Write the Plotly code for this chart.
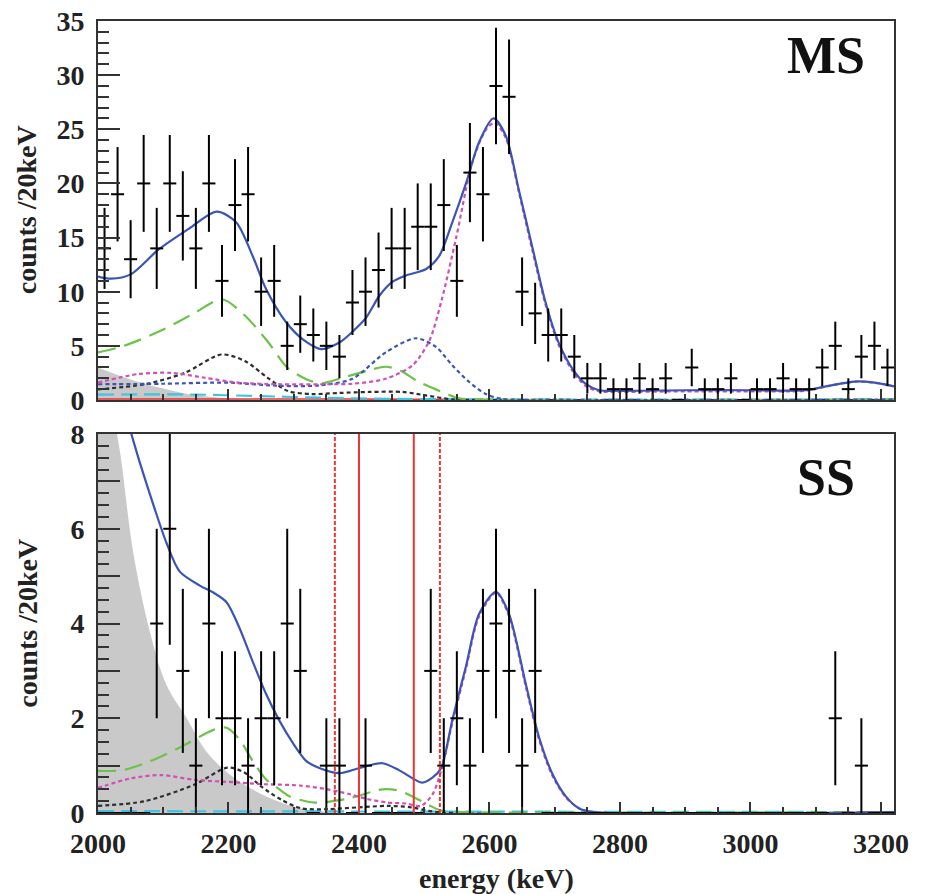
import numpy as np
import plotly.graph_objects as go

# ---------------- data ----------------
bin_centers = list(range(2010, 3220, 20))  # 61 bins of 20 keV

ms_counts = [14, 19, 13, 20, 14, 20, 17, 14, 20, 11, 18, 19, 10, 11, 5, 7, 6, 5, 4, 9,
             10, 12, 14, 14, 16, 16, 18, 11, 21, 19, 29, 28, 10, 8, 6, 6, 4, 2, 2, 1,
             1, 2, 1, 2, 0, 3, 1, 1, 2, 0, 1, 1, 2, 1, 1, 3, 5, 1, 4, 5, 3]

ss_counts = [0, 0, 0, 0, 4, 6, 3, 1, 4, 2, 2, 1, 2, 2, 4, 3, 0, 1, 1, 0,
             1, 0, 0, 0, 0, 3, 1, 2, 1, 3, 4, 3, 1, 3, 0, 0, 0, 0, 0, 0,
             0, 0, 0, 0, 0, 0, 0, 0, 0, 0, 0, 0, 0, 0, 0, 0, 2, 0, 1, 0, 0]

# MS fit components (energy knots, counts)
ms_total_e = [2000, 2020, 2050, 2093, 2139, 2182, 2212, 2237, 2258, 2288, 2314, 2342, 2370, 2390, 2411,
              2431, 2451, 2472, 2503, 2523, 2543, 2564, 2584, 2606, 2625, 2645, 2665, 2686, 2706, 2727,
              2747, 2768, 2800, 2900, 3000, 3084, 3120, 3160, 3190, 3220]
ms_total_y = [11.4, 11.2, 11.6, 13.9, 15.8, 17.4, 16.4, 13.3, 10.2, 7.2, 5.6, 4.7, 5.3, 6.3, 7.6,
              9.6, 10.9, 11.5, 12.1, 13.3, 16.4, 20.0, 23.8, 26.0, 24.4, 19.4, 14.3, 9.0, 5.3, 2.9,
              1.5, 0.9, 0.85, 0.9, 0.9, 0.9, 1.3, 1.7, 1.6, 1.25]

ms_tl_e = [2000, 2062, 2113, 2164, 2215, 2281, 2340, 2390, 2441, 2482, 2508, 2527, 2549, 2574, 2595,
           2608, 2625, 2645, 2665, 2686, 2706, 2727, 2747, 2768, 2800, 2900, 3000, 3084, 3120, 3160,
           3190, 3220]
ms_tl_y = [1.6, 2.4, 2.5, 2.05, 1.6, 1.45, 1.45, 1.5, 1.96, 3.2, 5.5, 9.3, 15.0, 22.0, 25.0,
           25.6, 24.2, 19.2, 14.0, 8.8, 5.1, 2.7, 1.3, 0.8, 0.75, 0.8, 0.8, 0.85, 1.3, 1.7,
           1.6, 1.25]

ms_bb0_e = [2000, 2100, 2199, 2281, 2339, 2390, 2441, 2487, 2518, 2543, 2569, 2594, 2620, 2700, 3220]
ms_bb0_y = [1.45, 1.5, 1.6, 1.3, 1.35, 1.96, 4.4, 5.7, 4.9, 3.2, 1.66, 0.56, 0.1, 0.03, 0.03]

ms_green_e = [2000, 2040, 2100, 2150, 2190, 2225, 2260, 2290, 2320, 2342, 2370, 2416, 2441, 2462, 2492,
              2533, 2554, 2600, 3220]
ms_green_y = [4.4, 5.0, 6.5, 8.1, 9.3, 7.8, 5.4, 3.0, 1.9, 1.55, 1.96, 2.76, 3.07, 2.76, 1.66,
              0.6, 0.15, 0.04, 0.04]

ms_black_e = [2000, 2072, 2133, 2189, 2225, 2260, 2291, 2327, 2370, 2416, 2467, 2502, 2543, 2600, 3220]
ms_black_y = [0.98, 1.46, 2.5, 4.2, 3.6, 2.05, 0.83, 0.55, 0.65, 0.74, 0.74, 0.43, 0.05, 0.0, 0.0]

ms_cyan_e = [2000, 2148, 2250, 2352, 2450, 2600, 3220]
ms_cyan_y = [0.5, 0.5, 0.35, 0.2, 0.1, 0.05, 0.05]

ms_red_e = [2000, 2400, 2600, 3220]
ms_red_y = [0.1, 0.08, 0.03, 0.02]

ms_gray_e = [2000, 2026, 2057, 2097, 2138, 2179, 2250, 3220]
ms_gray_y = [3.0, 2.4, 1.75, 1.1, 0.55, 0.25, 0.0, 0.0]

# SS fit components
ss_total_e = [2000, 2025, 2049, 2064, 2085, 2105, 2125, 2156, 2176, 2197, 2217, 2237, 2258, 2278, 2299,
              2319, 2339, 2370, 2401, 2436, 2462, 2497, 2513, 2526, 2543, 2564, 2584, 2610, 2630, 2656,
              2676, 2696, 2717, 2737, 2760, 3220]
ss_total_y = [11.0, 9.2, 8.1, 7.4, 6.5, 5.7, 5.1, 4.8, 4.66, 4.45, 3.9, 3.2, 2.5, 1.95, 1.47,
              1.1, 0.95, 0.84, 0.95, 1.05, 0.9, 0.64, 0.75, 0.95, 1.96, 3.1, 4.2, 4.67, 4.2, 2.7,
              1.6, 0.84, 0.35, 0.1, 0.02, 0.02]

ss_tl_e = [2000, 2050, 2097, 2148, 2207, 2250, 2309, 2352, 2385, 2411, 2444, 2472, 2495, 2513, 2526,
           2543, 2564, 2584, 2610, 2630, 2656, 2676, 2696, 2717, 2737, 2760, 3220]
ss_tl_y = [0.53, 0.73, 0.8, 0.7, 0.65, 0.61, 0.58, 0.5, 0.4, 0.3, 0.22, 0.2, 0.15, 0.4, 0.9,
           1.9, 3.05, 4.15, 4.65, 4.15, 2.65, 1.55, 0.8, 0.33, 0.1, 0.02, 0.02]

ss_green_e = [2000, 2036, 2072, 2128, 2176, 2197, 2217, 2237, 2258, 2273, 2294, 2332, 2383, 2436, 2462,
              2482, 2508, 2526, 2560, 3220]
ss_green_y = [0.89, 0.9, 1.05, 1.4, 1.75, 1.8, 1.55, 1.1, 0.7, 0.55, 0.35, 0.22, 0.3, 0.5, 0.47,
              0.35, 0.16, 0.05, 0.02, 0.02]

ss_black_e = [2000, 2072, 2148, 2199, 2225, 2250, 2281, 2311, 2350, 2400, 2444, 2480, 2520, 3220]
ss_black_y = [0.15, 0.25, 0.6, 0.96, 0.85, 0.56, 0.28, 0.1, 0.08, 0.12, 0.15, 0.12, 0.02, 0.0]

ss_cyan_e = [2000, 2500, 3220]
ss_cyan_y = [0.04, 0.03, 0.02]

ss_gray_e = [2000, 2020, 2034, 2054, 2080, 2105, 2136, 2166, 2207, 2258, 2309, 2360, 2400, 3220]
ss_gray_y = [10.5, 8.7, 7.6, 5.5, 3.8, 2.7, 2.0, 1.3, 0.76, 0.35, 0.1, 0.02, 0.0, 0.0]

roi_lines = [2363, 2400, 2484, 2524]
roi_styles = ["dash", "solid", "solid", "dash"]

x_range = [2000, 3220]
ms_range = [0, 35]
ss_range = [0, 8]

# ---------------- figure ----------------
FONT = "Liberation Serif"
BLUE = "#3b55b4"
PINK = "#d150b4"
GREEN = "#6cc24a"
DARK = "#2f2f2f"
CYAN = "#3fc3e3"
RED = "#ee3333"

fig = go.Figure()

def comp(e, y, color, dash, xa, ya, width=2.2, fill=False):
    if fill:
        fig.add_trace(go.Scatter(x=e, y=y, mode="lines", line=dict(color="#c9c9c9", width=0, shape="spline"),
                                 fill="tozeroy", fillcolor="#c9c9c9", xaxis=xa, yaxis=ya,
                                 showlegend=False, hoverinfo="skip"))
    else:
        fig.add_trace(go.Scatter(x=e, y=y, mode="lines",
                                 line=dict(color=color, width=width, dash=dash, shape="spline", smoothing=0.8),
                                 xaxis=xa, yaxis=ya, showlegend=False, hoverinfo="skip"))

def data(counts, xa, ya):
    c = np.array(counts, dtype=float)
    fig.add_trace(go.Scatter(
        x=bin_centers, y=c, mode="markers",
        marker=dict(size=2, color="black"),
        error_y=dict(type="data", array=np.sqrt(c), visible=True, width=0, thickness=2, color="black"),
        error_x=dict(type="constant", value=10, visible=True, width=0, thickness=2, color="black"),
        xaxis=xa, yaxis=ya, showlegend=False))

# MS panel (top)
comp(ms_gray_e, ms_gray_y, None, None, "x", "y", fill=True)
comp(ms_red_e, ms_red_y, RED, "solid", "x", "y", width=1.5)
comp(ms_cyan_e, ms_cyan_y, CYAN, "16px,7px", "x", "y")
comp(ms_black_e, ms_black_y, DARK, "4px,3px", "x", "y")
comp(ms_green_e, ms_green_y, GREEN, "18px,9px", "x", "y")
comp(ms_bb0_e, ms_bb0_y, BLUE, "4px,3px", "x", "y")
comp(ms_tl_e, ms_tl_y, PINK, "4px,3px", "x", "y")
comp(ms_total_e, ms_total_y, BLUE, "solid", "x", "y")
data(ms_counts, "x", "y")

# SS panel (bottom)
comp(ss_gray_e, ss_gray_y, None, None, "x2", "y2", fill=True)
comp(ss_cyan_e, ss_cyan_y, CYAN, "16px,7px", "x2", "y2")
comp(ss_black_e, ss_black_y, DARK, "4px,3px", "x2", "y2")
comp(ss_green_e, ss_green_y, GREEN, "18px,9px", "x2", "y2")
comp(ss_tl_e, ss_tl_y, PINK, "4px,3px", "x2", "y2")
comp(ss_total_e, ss_total_y, BLUE, "solid", "x2", "y2")
data(ss_counts, "x2", "y2")

for xv, st in zip(roi_lines, roi_styles):
    fig.add_shape(type="line", xref="x2", yref="y2 domain", x0=xv, x1=xv, y0=0, y1=1,
                  line=dict(color=RED, width=2, dash="4px,2px" if st == "dash" else "solid"))

tickfont = dict(family=FONT, size=28, color="#222", weight="bold")
axis_common = dict(showline=True, linecolor="#333", linewidth=2, mirror=True, automargin=False,
                   ticks="inside", tickcolor="#333", tickwidth=2, showgrid=False, zeroline=False,
                   tickfont=tickfont, ticklabeloverflow="allow")

# the page body adds an 8 px offset; size the figure so the plot areas land where they should
fig.update_layout(
    width=918, height=886,
    margin=dict(l=90, r=32, t=13, b=81),
    paper_bgcolor="white", plot_bgcolor="white",
    xaxis=dict(domain=[0, 1], range=x_range, anchor="y", dtick=200, tick0=2000, ticklen=11,
               showticklabels=False, minor=dict(dtick=50, ticklen=6, ticks="inside", tickcolor="#333", tickwidth=1.5),
               **axis_common),
    yaxis=dict(domain=[0.5215, 1], range=ms_range, anchor="x", dtick=5, ticklen=22,
               ticklabelstandoff=6,
               minor=dict(dtick=1, ticklen=11, ticks="inside", tickcolor="#333", tickwidth=1.5),
               **axis_common),
    xaxis2=dict(domain=[0, 1], range=x_range, anchor="y2", dtick=200, tick0=2000, ticklen=11,
                ticklabelstandoff=4,
                minor=dict(dtick=50, ticklen=6, ticks="inside", tickcolor="#333", tickwidth=1.5),
                **axis_common),
    yaxis2=dict(domain=[0, 0.4785], range=ss_range, anchor="x2",
                tickvals=list(range(0, 9)), ticktext=[str(v) if v % 2 == 0 else "" for v in range(0, 9)],
                ticklen=22, ticklabelstandoff=6,
                minor=dict(dtick=0.25, ticklen=11, ticks="inside", tickcolor="#333", tickwidth=1.5),
                **axis_common),
)

ann_font = dict(family=FONT, size=28, color="#222", weight="bold")
fig.add_annotation(text="counts /20keV", xref="paper", yref="paper", x=-0.089, y=0.7614,
                   textangle=-90, showarrow=False, font=ann_font, xanchor="center", yanchor="middle")
fig.add_annotation(text="counts /20keV", xref="paper", yref="paper", x=-0.089, y=0.2393,
                   textangle=-90, showarrow=False, font=ann_font, xanchor="center", yanchor="middle")
fig.add_annotation(text="energy (keV)", xref="paper", yref="paper", x=0.5, y=-0.0821,
                   showarrow=False, font=ann_font, xanchor="center", yanchor="middle")
big = dict(family=FONT, size=52, color="#111", weight="bold")
fig.add_annotation(text="MS", xref="paper", yref="paper", x=0.9146, y=0.957,
                   showarrow=False, font=big, xanchor="center", yanchor="middle")
fig.add_annotation(text="SS", xref="paper", yref="paper", x=0.9146, y=0.423,
                   showarrow=False, font=big, xanchor="center", yanchor="middle")

fig.write_html("out.html")
